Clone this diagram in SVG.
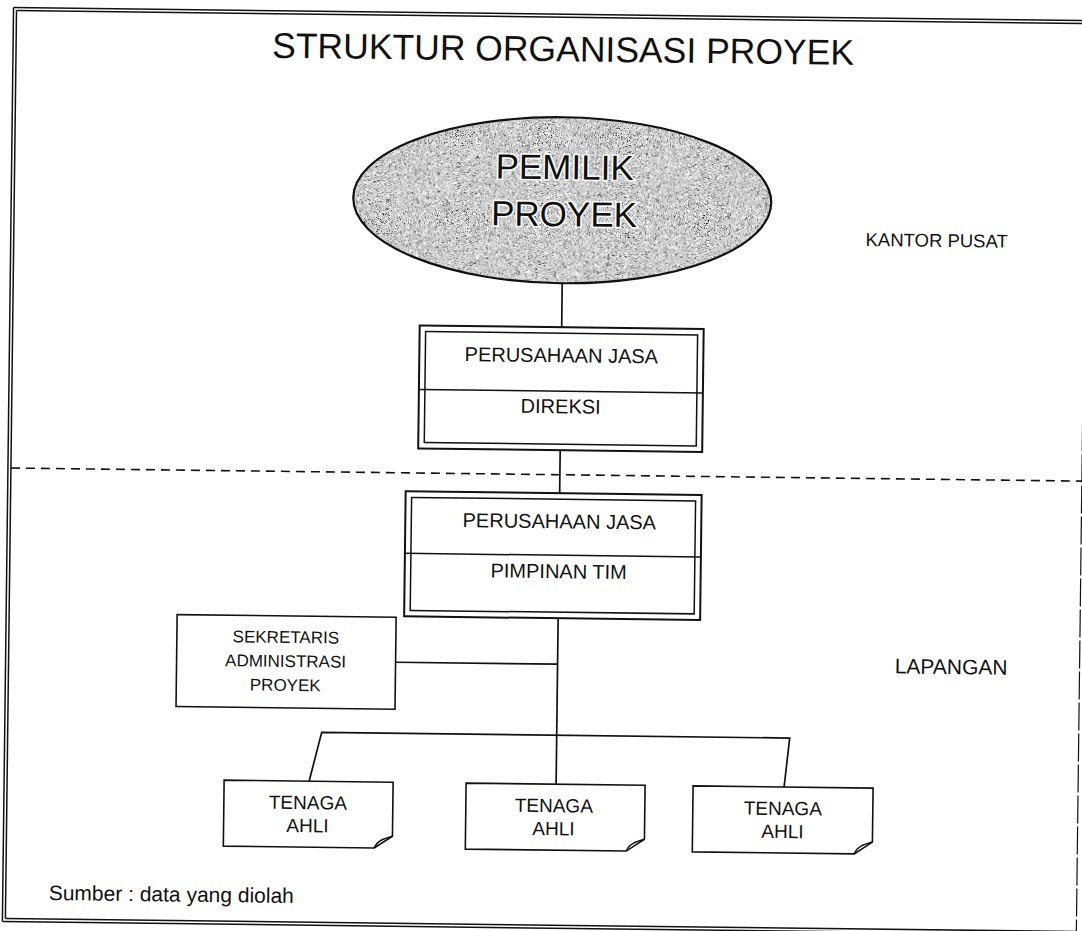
<svg xmlns="http://www.w3.org/2000/svg" width="1082" height="931" viewBox="0 0 1082 931">
  <defs>
    <!-- salt-and-pepper grey fill for the owner ellipse -->
    <filter id="grain" x="0" y="0" width="1" height="1">
      <feTurbulence type="fractalNoise" baseFrequency="1.9" numOctaves="1" seed="7" result="noise"/>
      <feColorMatrix in="noise" type="matrix" values="0 0 0 0 0  0 0 0 0 0  0 0 0 0 0  -7 0 0 0 3.35" result="darkA"/>
      <feComposite in="darkA" in2="SourceGraphic" operator="in" result="dark"/>
      <feColorMatrix in="noise" type="matrix" values="0 0 0 0 1  0 0 0 0 1  0 0 0 0 1  0 7 0 0 -3.6" result="lightA"/>
      <feComposite in="lightA" in2="SourceGraphic" operator="in" result="light"/>
      <feMerge>
        <feMergeNode in="SourceGraphic"/>
        <feMergeNode in="dark"/>
        <feMergeNode in="light"/>
      </feMerge>
    </filter>
  </defs>
  <style>
    text { font-family: "Liberation Sans", Arial, sans-serif; fill: #111; }
    .ln { fill: none; stroke: #111; stroke-width: 1.7; }
    .dash { fill: none; stroke: #111; stroke-width: 1.6; stroke-dasharray: 9 6; }
    .outer { fill: #fff; stroke: #111; stroke-width: 2; }
    .inner { fill: none; stroke: #111; stroke-width: 1.5; }
    .plain { fill: #fff; stroke: #111; stroke-width: 1.6; }
    .flap { fill: none; stroke: #111; stroke-width: 1.5; }
    .frame { fill: none; stroke: #111; stroke-width: 1.5; }
    .frame-r { fill: none; stroke: #111; stroke-width: 1.2; stroke-dasharray: 28 3; }
    .c { text-anchor: middle; }
    .title { font-size: 35.5px; }
    .big { font-size: 35px; stroke: #fff; stroke-width: 3; paint-order: stroke; }
    .m { font-size: 20px; }
    .s { font-size: 17px; }
    .n { font-size: 19px; }
    .zone { text-anchor: end; }
    .src { font-size: 21px; }
  </style>

  <rect width="1082" height="931" fill="#fff"/>

  <g transform="rotate(0.7 541 465)">
    <!-- page frame: double rule on top, left and bottom, single on the right -->
    <g id="frame">
      <path class="frame" d="M8 14 H1082 M11 17 H1082"/>
      <path class="frame" d="M8 14 V928 M11 17 V925"/>
      <path class="frame" d="M8 928 H1082 M11 925 H1082"/>
      <path class="frame-r" d="M1082 14 V928"/>
    </g>

    <g id="title">
      <text class="title c" x="558" y="61">STRUKTUR ORGANISASI PROYEK</text>
    </g>

    <!-- head office / field boundary -->
    <g id="zone-divider">
      <path class="dash" d="M11 474.5 H1082"/>
      <text class="zone" x="1005" y="242" font-size="18.5">KANTOR PUSAT</text>
      <text class="zone" x="1010" y="669" font-size="21">LAPANGAN</text>
    </g>

    <g id="connectors">
      <path class="ln" d="M560 283 V327"/>
      <path class="ln" d="M560 450 V493"/>
      <path class="ln" d="M560 618 V784"/>
      <path class="ln" d="M398 664 H560"/>
      <path class="ln" d="M313 784 L325 735 H793 L788 784"/>
    </g>

    <g id="pemilik">
      <ellipse cx="559" cy="200" rx="209" ry="83" fill="#c9c9c9" filter="url(#grain)"/>
      <ellipse cx="559" cy="200" rx="209" ry="83" fill="none" stroke="#111" stroke-width="2.2"/>
      <text class="big c" x="561" y="179">PEMILIK</text>
      <text class="big c" x="561" y="226">PROYEK</text>
    </g>

    <g id="direksi">
      <rect class="outer" x="418" y="327" width="284" height="123"/>
      <rect class="inner" x="424" y="333" width="272" height="111"/>
      <path class="inner" d="M418 391 H702"/>
      <text class="m c" x="560" y="362">PERUSAHAAN JASA</text>
      <text class="m c" x="560" y="413">DIREKSI</text>
    </g>

    <g id="pimpinan">
      <rect class="outer" x="406" y="493" width="296" height="125"/>
      <rect class="inner" x="412" y="499" width="284" height="113"/>
      <path class="inner" d="M406 555 H702"/>
      <text class="m c" x="560" y="528">PERUSAHAAN JASA</text>
      <text class="m c" x="560" y="578">PIMPINAN TIM</text>
    </g>

    <g id="sekretaris">
      <rect class="plain" x="179" y="619" width="219" height="92"/>
      <text class="s c" x="288" y="646">SEKRETARIS</text>
      <text class="s c" x="288" y="670">ADMINISTRASI</text>
      <text class="s c" x="288" y="694">PROYEK</text>
    </g>

    <g id="tenaga-ahli-1">
      <path class="plain" d="M228 784 H397 V838 L379 850 H228 Z"/>
      <path class="flap" d="M379 850 C382 842 390 840 397 838"/>
      <text class="n c" x="312" y="812">TENAGA</text>
      <text class="n c" x="312" y="835">AHLI</text>
    </g>

    <g id="tenaga-ahli-2">
      <path class="plain" d="M470 784 H649 V838 L631 850 H470 Z"/>
      <path class="flap" d="M631 850 C634 842 642 840 649 838"/>
      <text class="n c" x="558" y="812">TENAGA</text>
      <text class="n c" x="558" y="835">AHLI</text>
    </g>

    <g id="tenaga-ahli-3">
      <path class="plain" d="M697 784 H877 V838 L859 850 H697 Z"/>
      <path class="flap" d="M859 850 C862 842 870 840 877 838"/>
      <text class="n c" x="787" y="812">TENAGA</text>
      <text class="n c" x="787" y="835">AHLI</text>
    </g>

    <g id="source">
      <text class="src" x="54" y="906">Sumber : data yang diolah</text>
    </g>
  </g>
</svg>
